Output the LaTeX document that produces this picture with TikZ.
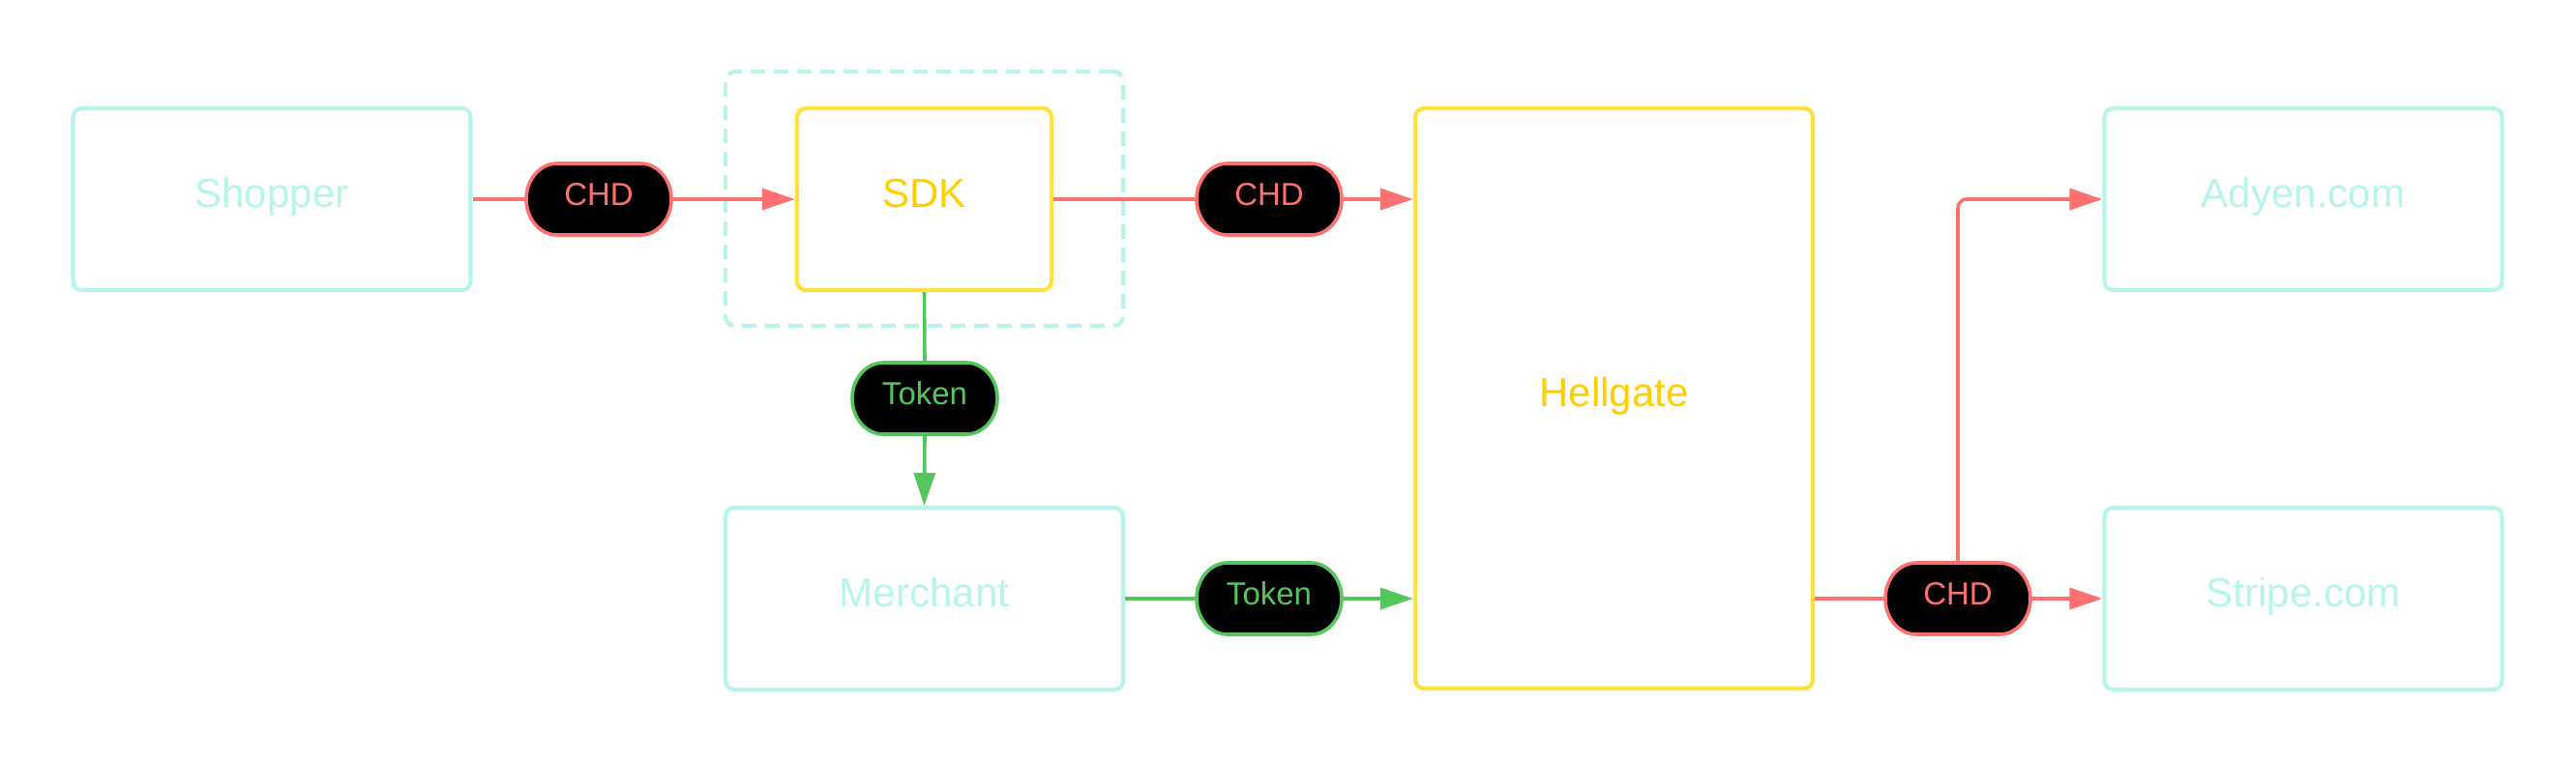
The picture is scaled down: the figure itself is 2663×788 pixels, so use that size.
\documentclass[tikz,border=0pt]{standalone}
\usepackage{fontspec}
\setmainfont{Liberation Sans}
\usetikzlibrary{arrows.meta}

\definecolor{teal}{RGB}{183,245,236}
\definecolor{goldline}{RGB}{255,224,61}
\definecolor{goldtext}{RGB}{255,206,0}
\definecolor{chdred}{RGB}{255,112,112}
\definecolor{tokgreen}{RGB}{84,198,92}

\tikzset{
  box/.style={draw, line width=4.2pt, rounded corners=9pt, fill=white,
    inner sep=0pt, minimum width=411pt, minimum height=188pt,
    font=\fontsize{42}{50}\selectfont, text height=22pt, text depth=6pt},
  actor/.style={box, draw=teal, text=teal},
  core/.style={box, draw=goldline, text=goldtext},
  pilltext/.style={inner sep=0pt, minimum width=150pt, minimum height=74pt,
    font=\fontsize{33}{40}\selectfont, text height=19pt, text depth=6pt},
  pillbody/.style={line width=3.6pt, fill=black},
  link/.style={line width=3.6pt},
  chdlink/.style={link, draw=chdred},
  toklink/.style={link, draw=tokgreen},
  tip/.style={-{Triangle[length=34pt,width=22pt]}},
  group/.style={draw=teal, line width=4.2pt, dash pattern=on 15pt off 9pt,
    rounded corners=10pt, inner sep=0pt}
}

% \pill{name}{x}{y}{colour}{text}: black capsule with elliptic ends and a label
\newcommand\pill[5]{%
  \filldraw[pillbody, draw=#4]
    (#2-43,#3-37) -- (#2+43,#3-37)
    arc[start angle=-90, end angle=90, x radius=32, y radius=37]
    -- (#2-43,#3+37)
    arc[start angle=90, end angle=270, x radius=32, y radius=37] -- cycle;
  \node[pilltext, text=#4] (#1) at (#2,#3) {#5};%
}

\begin{document}
\begin{tikzpicture}[x=1pt, y=-1pt]
  \path[fill=white] (0,0) rectangle (2663,788);
  \useasboundingbox (0,0) rectangle (2663,788);

  % client-side group around the SDK
  \node[group, minimum width=411pt, minimum height=263pt] (client) at (955.5,205.5) {};

  % participants
  \node[actor] (shopper) at (281,206) {Shopper};
  \node[core, minimum width=263pt] (sdk) at (955.5,206) {SDK};
  \node[actor] (merchant) at (955.5,619) {Merchant};
  \node[core, minimum height=600pt] (hellgate) at (1668.5,412) {Hellgate};
  \node[actor] (adyen) at (2381,206) {Adyen.com};
  \node[actor] (stripe) at (2381,619) {Stripe.com};

  % data carried on each hop
  \pill{chdA}{619}{206}{chdred}{CHD}
  \pill{chdB}{1312}{206}{chdred}{CHD}
  \pill{tokA}{956}{412}{tokgreen}{Token}
  \pill{tokB}{1312}{619}{tokgreen}{Token}
  \pill{chdC}{2024}{619}{chdred}{CHD}

  % card holder data flow
  \draw[chdlink] (shopper.east) -- (chdA.west);
  \draw[chdlink, tip] (chdA.east) -- (sdk.west);
  \draw[chdlink] (sdk.east) -- (chdB.west);
  \draw[chdlink, tip] (chdB.east) -- (hellgate.west |- chdB);

  % token flow
  \draw[toklink] (sdk.south) -- (tokA.north);
  \draw[toklink, tip] (tokA.south) -- (merchant.north);
  \draw[toklink] (merchant.east) -- (tokB.west);
  \draw[toklink, tip] (tokB.east) -- (hellgate.west |- tokB);

  % forwarding to the providers
  \draw[chdlink] (hellgate.east |- chdC) -- (chdC.west);
  \draw[chdlink, tip] (chdC.east) -- (stripe.west);
  \draw[chdlink, tip, rounded corners=9pt] (chdC.north) |- (adyen.west);
\end{tikzpicture}
\end{document}
